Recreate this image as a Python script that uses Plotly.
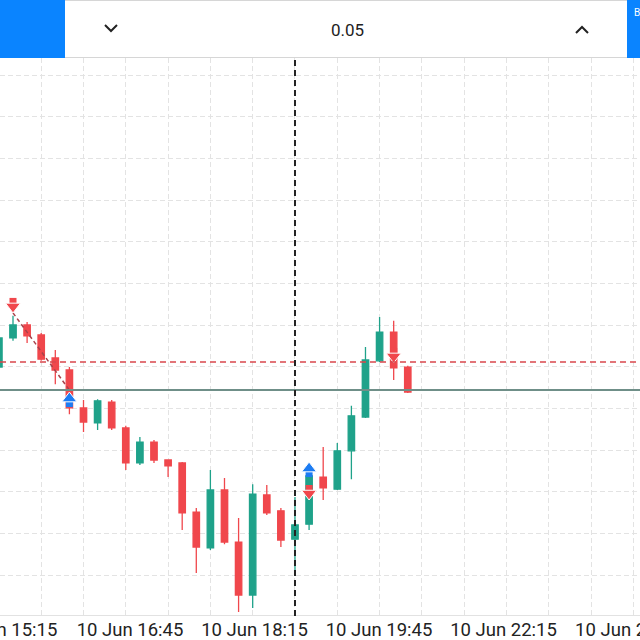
import plotly.graph_objects as go

# candle data (10 Jun), index = candle slot on the chart
idx = list(range(30))
opens = [2310.99, 2311.69, 2312.00, 2311.76, 2311.21, 2310.92, 2310.01, 2309.65, 2310.15, 2309.53,
         2308.69, 2309.19, 2308.76, 2308.69, 2307.51, 2306.65, 2308.04, 2306.79, 2305.52, 2307.92,
         2307.54, 2306.86, 2307.22, 2308.35, 2308.06, 2308.98, 2309.79, 2311.14, 2311.83, 2310.99]
highs = [2311.88, 2312.22, 2312.07, 2311.81, 2311.40, 2310.99, 2310.20, 2310.22, 2310.20, 2309.58,
         2309.31, 2309.24, 2308.78, 2308.71, 2307.61, 2308.52, 2308.33, 2307.37, 2308.18, 2308.16,
         2307.61, 2307.87, 2308.45, 2309.07, 2309.17, 2310.06, 2311.47, 2312.19, 2312.10, 2311.02]
lows = [2310.87, 2311.62, 2311.57, 2311.14, 2310.58, 2309.86, 2309.43, 2309.48, 2309.48, 2308.52,
        2308.64, 2308.69, 2308.35, 2307.08, 2306.05, 2306.60, 2306.74, 2305.11, 2305.21, 2307.44,
        2306.67, 2306.05, 2307.08, 2307.80, 2308.04, 2308.30, 2309.77, 2311.11, 2310.68, 2310.37]
closes = [2311.69, 2312.00, 2311.74, 2311.18, 2310.92, 2310.01, 2309.67, 2310.18, 2309.53, 2308.69,
          2309.19, 2308.76, 2308.62, 2307.49, 2306.67, 2308.04, 2306.79, 2305.52, 2307.94, 2307.49,
          2306.84, 2307.20, 2308.38, 2308.09, 2308.98, 2309.82, 2311.16, 2311.83, 2310.97, 2310.39]

# time labels under the chart
tick_pos = [0.36, 9.30, 18.13, 26.96, 35.79, 44.65]
tick_text = ["10 Jun 15:15", "10 Jun 16:45", "10 Jun 18:15", "10 Jun 19:45", "10 Jun 22:15", "10 Jun 23:45"]

# levels and trades
order_level = 2311.11   # red dashed
price_level = 2310.44   # grey solid
cursor_idx = 21
lot_text = "0.05"

buy_idx = [5, 22]
buy_tip = [2310.39, 2308.71]
sell_idx = [1, 22, 28]
sell_tip = [2312.29, 2307.80, 2311.09]
trade_line_x = [1, 5]
trade_line_y = [2312.29, 2310.44]

W, H = 640, 640
TOP, BOT = 58, 616
y_lo, y_hi = 2305.016, 2318.408
ppx = (y_hi - y_lo) / (BOT - TOP)   # price per pixel

GREEN = "#1fa28a"
RED = "#f0474c"
BLUE = "#1d7cf2"

fig = go.Figure()

fig.add_trace(go.Candlestick(
    x=idx, open=opens, high=highs, low=lows, close=closes,
    increasing=dict(line=dict(color=GREEN, width=1.3), fillcolor=GREEN),
    decreasing=dict(line=dict(color=RED, width=1.3), fillcolor=RED),
    whiskerwidth=0, showlegend=False, hoverinfo="skip",
))

# trade connection line
fig.add_trace(go.Scatter(x=trade_line_x, y=trade_line_y, mode="lines",
                         line=dict(color="#a8414a", width=1.5, dash="4px,3px"),
                         showlegend=False, hoverinfo="skip"))

# buy arrows: head on top, stem under it
fig.add_trace(go.Scatter(x=buy_idx, y=[p - 11.5 * ppx for p in buy_tip], mode="markers",
                         marker=dict(symbol="square", size=7, color=BLUE, line=dict(width=0)),
                         showlegend=False, hoverinfo="skip"))
fig.add_trace(go.Scatter(x=buy_idx, y=[p - 6.5 * ppx for p in buy_tip], mode="markers",
                         marker=dict(symbol="triangle-up", size=13, color=BLUE,
                                     line=dict(width=1, color="white")),
                         showlegend=False, hoverinfo="skip"))
# sell arrows: stem on top, head under it
fig.add_trace(go.Scatter(x=sell_idx, y=[p + 11.5 * ppx for p in sell_tip], mode="markers",
                         marker=dict(symbol="square", size=7, color=RED, line=dict(width=0)),
                         showlegend=False, hoverinfo="skip"))
fig.add_trace(go.Scatter(x=sell_idx, y=[p + 6.5 * ppx for p in sell_tip], mode="markers",
                         marker=dict(symbol="triangle-down", size=13, color=RED,
                                     line=dict(width=1, color="white")),
                         showlegend=False, hoverinfo="skip"))


def px_x(x):
    return x / W


def px_y(y):
    return 1 - y / H


shapes = [
    dict(type="line", xref="paper", yref="y", x0=0, x1=1, y0=order_level, y1=order_level,
         line=dict(color="#d9474c", width=1.5, dash="6px,4px"), layer="above"),
    dict(type="line", xref="paper", yref="y", x0=0, x1=1, y0=price_level, y1=price_level,
         line=dict(color="#6f8f88", width=2), layer="above"),
    dict(type="line", xref="x", yref="paper", x0=cursor_idx, x1=cursor_idx,
         y0=px_y(BOT), y1=px_y(TOP),
         line=dict(color="#222222", width=2, dash="6px,4px"), layer="above"),
    # bottom border of the plot area
    dict(type="line", xref="paper", yref="paper", x0=0, x1=1, y0=px_y(BOT - 0.5), y1=px_y(BOT - 0.5),
         line=dict(color="#e2e2e2", width=1), layer="below"),
    # top toolbar
    dict(type="rect", xref="paper", yref="paper", x0=0, x1=1, y0=px_y(TOP), y1=1,
         fillcolor="white", line=dict(width=0), layer="above"),
    dict(type="line", xref="paper", yref="paper", x0=0, x1=1, y0=px_y(TOP - 0.5), y1=px_y(TOP - 0.5),
         line=dict(color="#d6d6d6", width=1), layer="above"),
    dict(type="line", xref="paper", yref="paper", x0=0, x1=1, y0=px_y(0.5), y1=px_y(0.5),
         line=dict(color="#d6d6d6", width=1), layer="above"),
    dict(type="rect", xref="paper", yref="paper", x0=0, x1=px_x(65), y0=px_y(TOP), y1=1,
         fillcolor="#0a84ff", line=dict(width=0), layer="above"),
    dict(type="rect", xref="paper", yref="paper", x0=px_x(627), x1=1, y0=px_y(TOP), y1=1,
         fillcolor="#0a84ff", line=dict(width=0), layer="above"),
    dict(type="path", xref="paper", yref="paper",
         path="M %f,%f L %f,%f L %f,%f" % (px_x(105), px_y(25), px_x(111), px_y(31), px_x(117), px_y(25)),
         line=dict(color="#222222", width=2), layer="above"),
    dict(type="path", xref="paper", yref="paper",
         path="M %f,%f L %f,%f L %f,%f" % (px_x(576), px_y(33), px_x(582), px_y(27), px_x(588), px_y(33)),
         line=dict(color="#222222", width=2), layer="above"),
]

annotations = [
    dict(text=lot_text, xref="paper", yref="paper", x=px_x(347), y=px_y(30), showarrow=False,
         font=dict(family="Roboto", size=17, color="#222222"), xanchor="center", yanchor="middle"),
    dict(text="B", xref="paper", yref="paper", x=px_x(632), y=px_y(13), showarrow=False,
         font=dict(family="Roboto", size=10, color="white"), xanchor="left", yanchor="middle"),
]

fig.update_layout(
    width=W, height=H,
    margin=dict(l=0, r=0, t=0, b=0, autoexpand=False),
    paper_bgcolor="white", plot_bgcolor="white",
    boxgap=0.35,
    shapes=shapes, annotations=annotations,
    font=dict(family="Roboto", color="#222222"),
    xaxis=dict(
        range=[0.078, 45.47], domain=[0, 1], rangeslider=dict(visible=False),
        tickmode="array", tickvals=tick_pos, ticktext=tick_text,
        ticks="", showgrid=False, zeroline=False, showline=False,
        tickfont=dict(family="Roboto", size=18.5, color="#222222"),
        ticklabeloverflow="allow", automargin=False, ticklabelstandoff=0,
        minor=dict(tickmode="linear", tick0=0, dtick=3, showgrid=True,
                   gridcolor="#e3e3e3", griddash="5px,3px", gridwidth=1),
        fixedrange=True,
    ),
    yaxis=dict(
        range=[y_lo, y_hi], domain=[px_y(BOT), px_y(TOP)],
        tick0=2305, dtick=1, showticklabels=False, ticks="",
        showgrid=True, gridcolor="#e3e3e3", griddash="5px,3px", gridwidth=1,
        zeroline=False, showline=False, fixedrange=True, automargin=False,
    ),
)

fig.write_html("out.html", config={"displayModeBar": False},
               post_script="document.body.style.margin='0';document.body.style.overflow='hidden';")
